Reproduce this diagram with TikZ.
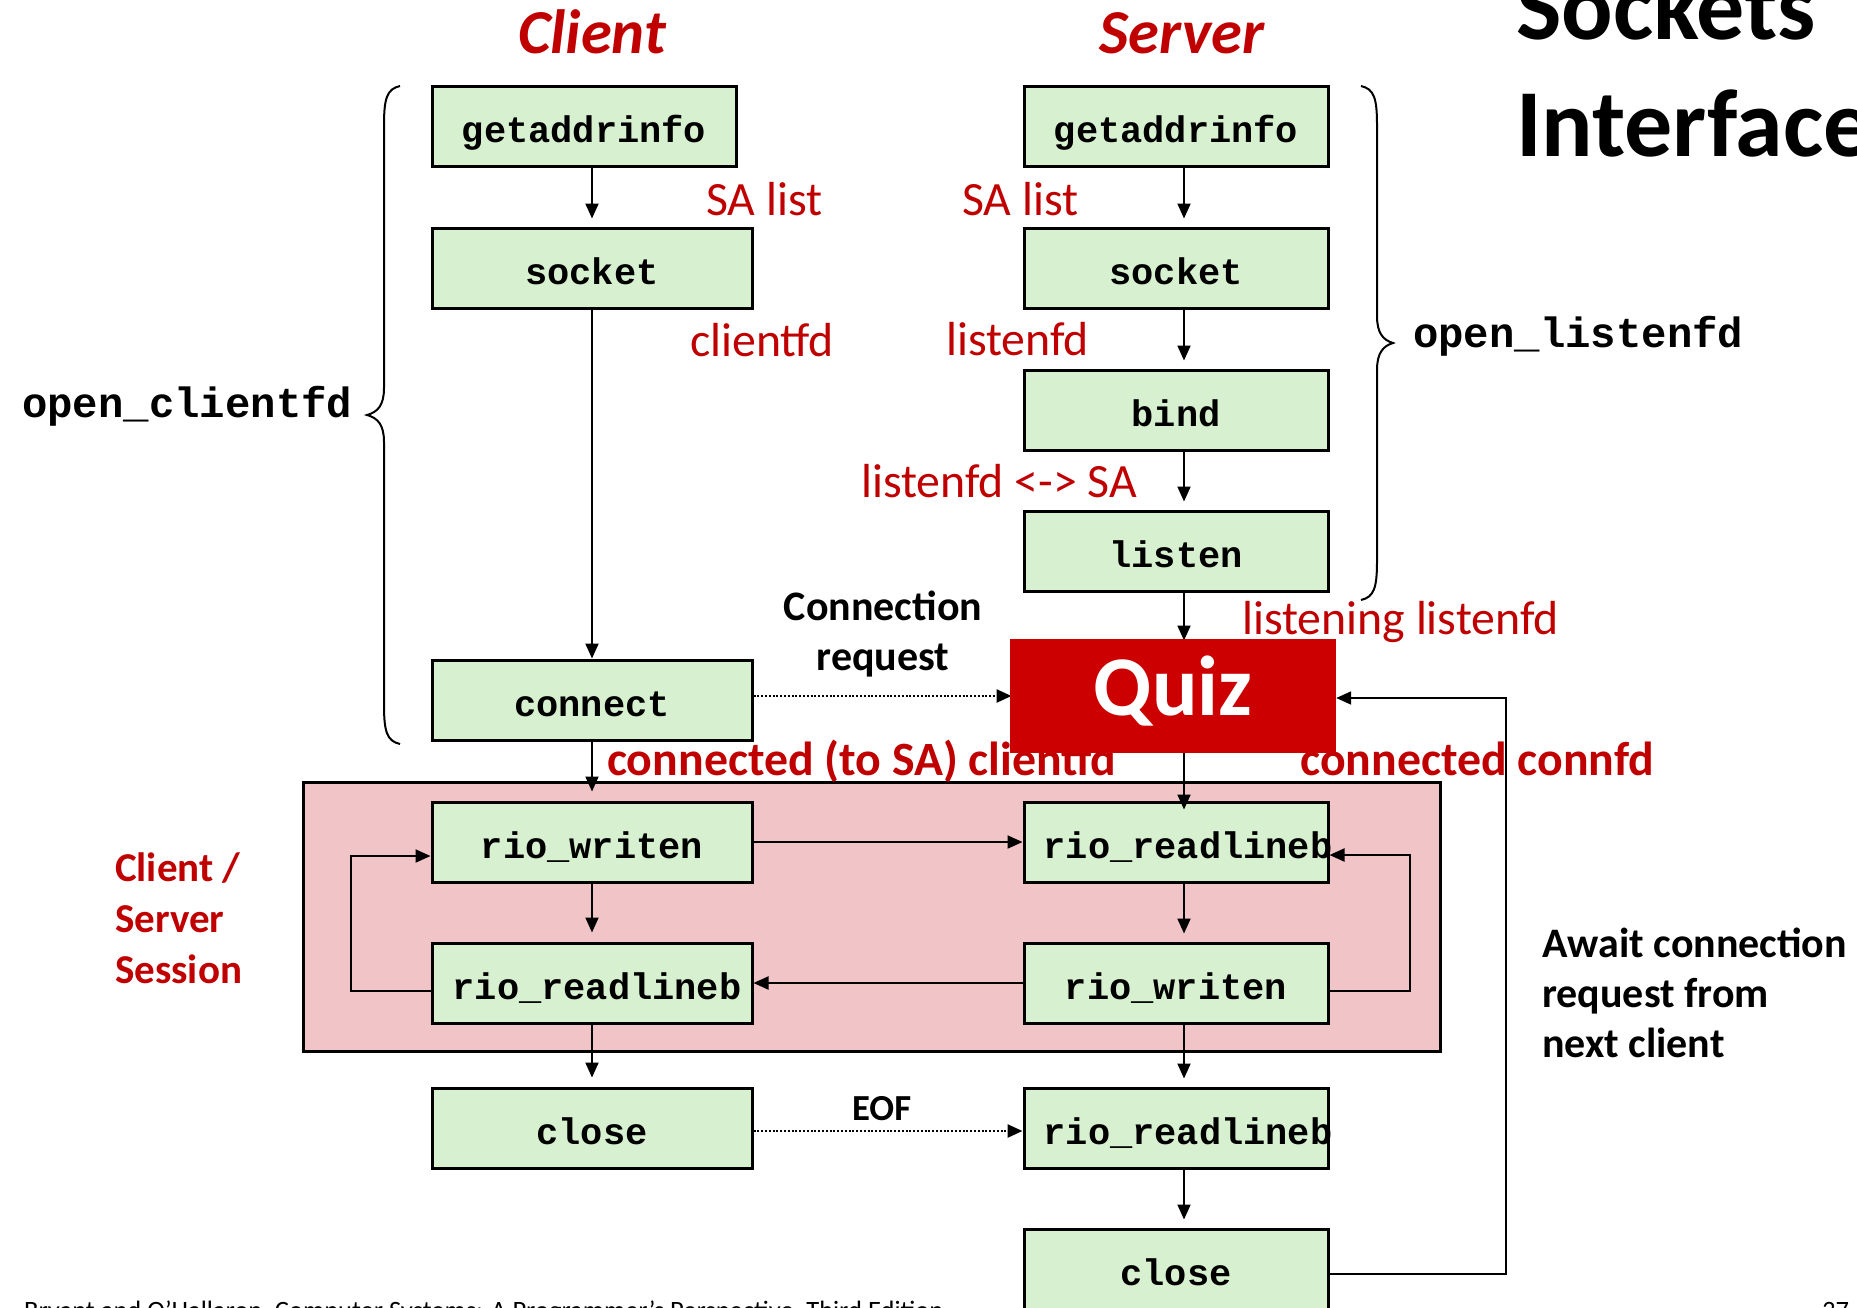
\documentclass[tikz,border=0pt]{standalone}
\usepackage{fontspec}
\setmainfont{Carlito}
\setmonofont{Liberation Mono}
\usetikzlibrary{arrows.meta}
\definecolor{labelred}{RGB}{192,0,0}
\definecolor{boxgreen}{RGB}{214,240,208}
\definecolor{sessionpink}{RGB}{241,197,199}
\definecolor{quizred}{RGB}{204,0,0}
\newcommand{\fsz}[1]{\fontsize{#1}{#1}\selectfont}

\begin{document}
\begin{tikzpicture}[x=1pt,y=-1pt,
  fn/.style={draw=black, line width=3pt, fill=boxgreen, inner sep=0pt,
    minimum height=80pt, text height=32pt, text depth=0pt,
    font=\fsz{37}\ttfamily\bfseries},
  cwide/.style={minimum width=320pt},
  snarrow/.style={minimum width=304pt},
  flow/.style={draw=black, line width=2pt, -{Triangle[length=15pt,width=13pt]}},
  dotflow/.style={flow, dash pattern=on 2pt off 1.8pt, line width=2.5pt},
  note/.style={inner sep=0pt, anchor=base west, text=labelred, font=\fsz{47.8}},
  boldnote/.style={inner sep=0pt, anchor=base west, text=labelred, font=\fsz{47.8}\bfseries},
  sessnote/.style={inner sep=0pt, anchor=base west, text=labelred, font=\fsz{41}\bfseries},
  blacknote/.style={inner sep=0pt, text=black, font=\fsz{42}\bfseries},
  fnlabel/.style={inner sep=0pt, anchor=base west, font=\fsz{42.3}\ttfamily\bfseries},
  bracepath/.style={draw=black, line width=2pt},
  title/.style={inner sep=0pt, anchor=base, text=labelred, font=\fsz{62.5}\bfseries\itshape}
]
\useasboundingbox (0,0) rectangle (1857,1307);
\clip (0,0) rectangle (1857,1307);
\fill[white] (0,0) rectangle (1857,1307);

% session area
\draw[line width=3pt, fill=sessionpink] (303,782) rectangle (1440,1051);

% headings
\node[title] (tclient) at (592,53) {Client};
\node[title] (tserver) at (1182,53) {Server};
\node[inner sep=0pt, anchor=base west, font=\fsz{96}\bfseries] (tsock) at (1516,39) {Sockets};
\node[inner sep=0pt, anchor=base west, font=\fsz{96}\bfseries] (tintf) at (1516,156) {Interface};

% client side
\node[fn, snarrow] (cga) at (584,126) {getaddrinfo};
\node[fn, cwide] (csock) at (592,268) {socket};
\node[fn, cwide] (cconn) at (592,700) {connect};
\node[fn, cwide] (cwr) at (592,842) {rio\_writen};
\node[fn, cwide] (crl) at (592,983) {\kern5pt rio\_readlineb\kern-5pt};
\node[fn, cwide] (ccl) at (592,1128) {close};

% server side
\node[fn, snarrow] (sga) at (1176,126) {getaddrinfo};
\node[fn, snarrow] (ssock) at (1176,268) {socket};
\node[fn, snarrow] (sbind) at (1176,410) {bind};
\node[fn, snarrow] (slis) at (1176,551) {listen};
\node[fn, snarrow] (srl) at (1176,842) {\kern12pt rio\_readlineb\kern-12pt};
\node[fn, snarrow] (swr) at (1176,983) {rio\_writen};
\node[fn, snarrow] (srlb) at (1176,1128) {\kern12pt rio\_readlineb\kern-12pt};
\node[fn, snarrow] (scl) at (1176,1269) {close};

\coordinate (ccol) at (592,0);
\coordinate (scol) at (1184,0);

% client flow
\draw[flow, shorten >=8pt] (cga.south -| ccol) -- (csock.north);
\draw[flow] (csock.south) -- (cconn.north);
\draw[flow, shorten >=9pt] (cconn.south) -- (cwr.north);
\draw[flow, shorten >=9pt] (cwr.south) -- (crl.north);
\draw[flow, shorten >=9pt] (crl.south) -- (ccl.north);
\draw[flow] ([yshift=-8pt]crl.west) -- ++(-80,0) |- ([yshift=-14pt]cwr.west);

% server flow
\draw[flow, shorten >=8pt] (sga.south -| scol) -- (ssock.north -| scol);
\draw[flow, shorten >=8pt] (ssock.south -| scol) -- (sbind.north -| scol);
\draw[flow, shorten >=8pt] (sbind.south -| scol) -- (slis.north -| scol);
\draw[flow, shorten >=8pt] (srl.south -| scol) -- (swr.north -| scol);
\draw[flow, shorten >=8pt] (swr.south -| scol) -- (srlb.north -| scol);
\draw[flow, shorten >=8pt] (srlb.south -| scol) -- (scl.north -| scol);
\draw[flow] ([yshift=-8pt]swr.east) -- ++(80,0) |- ([yshift=-13pt]srl.east);

% exchanges between the two sides
\draw[flow] (cwr.east) -- (srl.west);
\draw[flow] (swr.west) -- (crl.east);
\draw[dotflow] ([yshift=-3pt]ccl.east) -- ([yshift=-3pt]srlb.west);
\node[blacknote, anchor=base west, font=\fsz{36.7}\bfseries] (eof) at (852,1120) {EOF};

% annotations
\node[note] (casa) at (706,215) {SA list};
\node[note] (ssa) at (962,215) {SA list};
\node[note] (cfd) at (690,356) {clientfd};
\node[note] (lfd) at (946,355) {listenfd};
\node[note] (lsa) at (861,497) {listenfd <-> SA};
\node[note] (lisn) at (1242,634) {listening listenfd};
\node[boldnote] (ccon) at (607,775) {connected (to SA) clientfd};
\node[boldnote] (scon) at (1300,775) {connected connfd};

\node[sessnote] (sess1) at (115,881) {Client /};
\node[sessnote] (sess2) at (115,932) {Server};
\node[sessnote] (sess3) at (115,983) {Session};

\node[blacknote, anchor=base] (creq1) at (883,620) {Connection};
\node[blacknote, anchor=base] (creq2) at (883,670) {request};

\node[blacknote, anchor=base west] (aw1) at (1542,957) {Await connection};
\node[blacknote, anchor=base west] (aw2) at (1542,1007) {request from};
\node[blacknote, anchor=base west] (aw3) at (1542,1057) {next client};

\node[fnlabel] (ocl) at (22,417) {open\_clientfd};
\node[fnlabel] (olis) at (1413,347) {open\_listenfd};

% braces grouping the helper functions
\draw[bracepath] (400,86) .. controls (387,89) and (384,98) .. (384,125)
  -- (384,388) .. controls (384,405) and (378,412) .. (367,415)
  .. controls (378,418) and (384,425) .. (384,442)
  -- (384,705) .. controls (384,732) and (387,741) .. (400,744);
\draw[bracepath] (1361,86) .. controls (1374,89) and (1377,98) .. (1377,125)
  -- (1377,316) .. controls (1377,333) and (1383,340) .. (1393,343)
  .. controls (1383,346) and (1377,353) .. (1377,370)
  -- (1377,561) .. controls (1377,588) and (1374,597) .. (1361,600);

% accept step, then the loop back to it
\draw[flow] (slis.south -| scol) -- ++(0,48);
\draw[dotflow] ([yshift=4pt]cconn.east) -- ++(258,0);
\node[fill=quizred, inner sep=0pt, minimum width=326pt, minimum height=114pt] (quiz) at (1173,696) {};
\node[inner sep=0pt, anchor=base, text=white, font=\fsz{85}\bfseries] (quizt) at (1173,715) {Quiz};
\draw[flow] (quiz.south -| scol) -- ([yshift=-9pt]srl.north -| scol);
\draw[flow] ([yshift=-5pt]scl.east) -- ++(176,0) |- ([yshift=-2pt]quiz.east);

% footer
\node[inner sep=0pt, anchor=base west, font=\fsz{26.5}] (foot) at (24,1319) {Bryant and O’Hallaron, Computer Systems: A Programmer’s Perspective, Third Edition};
\node[inner sep=0pt, anchor=base west, font=\fsz{26.5}] (pg) at (1822,1319) {37};
\end{tikzpicture}
\end{document}
